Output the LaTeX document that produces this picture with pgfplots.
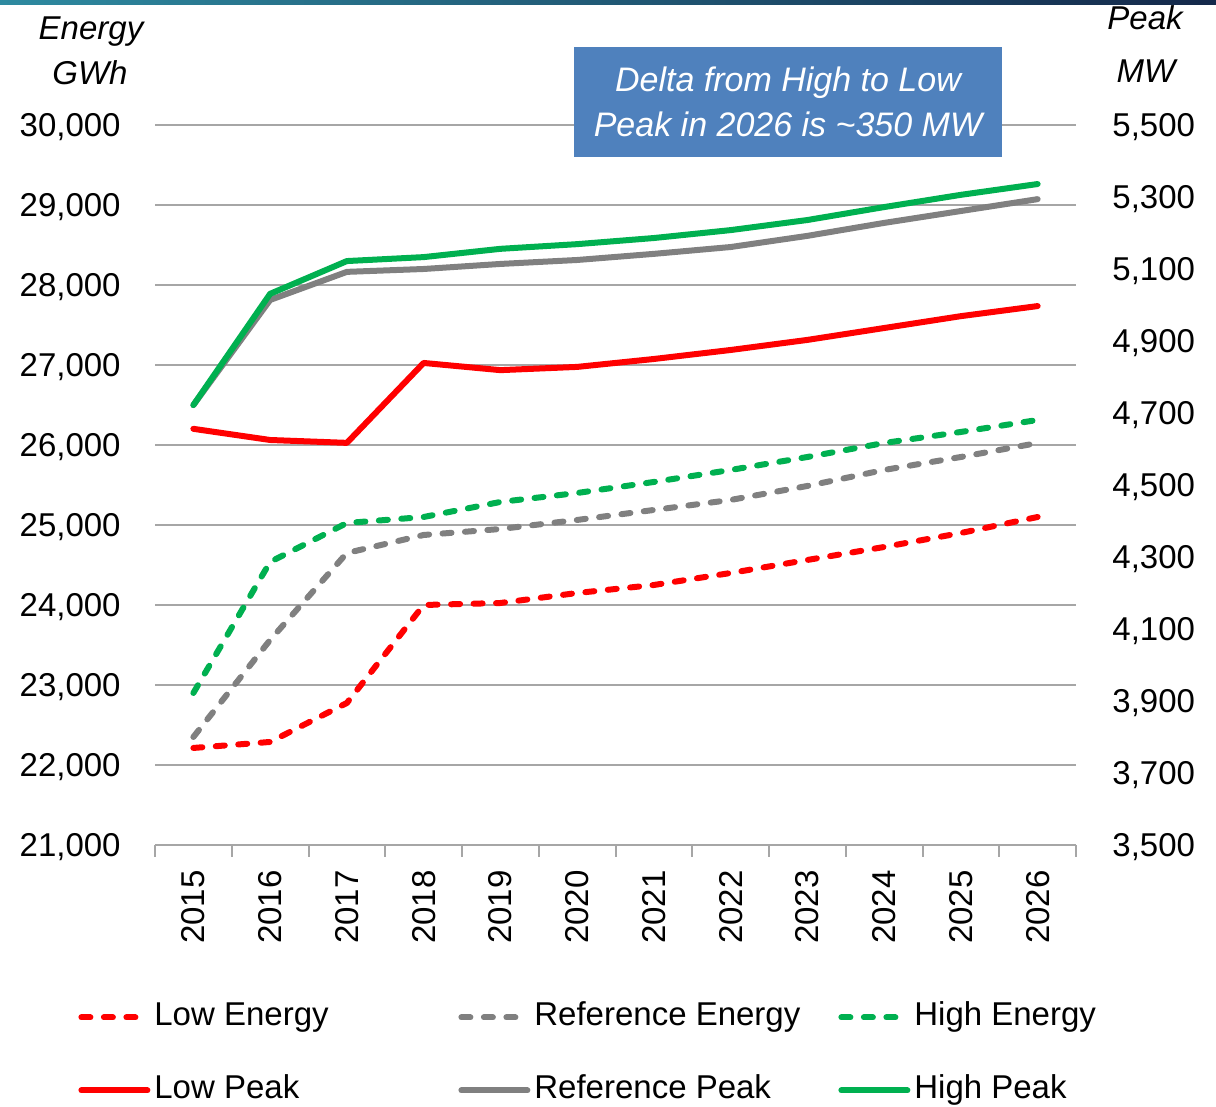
\documentclass[border=0pt]{standalone}
\usepackage{fontspec}
\setmainfont{Liberation Sans}
\usepackage{pgfplots}
\pgfplotsset{compat=1.18}
\definecolor{cRed}{HTML}{FF0000}
\definecolor{cGray}{HTML}{808080}
\definecolor{cGreen}{HTML}{00B050}
\definecolor{cGrid}{HTML}{A6A6A6}
\definecolor{cBox}{HTML}{4F81BD}
\definecolor{barL}{HTML}{2E8AA0}
\definecolor{barR}{HTML}{14284A}
\begin{document}
\begin{tikzpicture}
\useasboundingbox (0,0) rectangle (608pt,553.5pt);
\pgfplotsset{
  base/.style={
    scale only axis, width=460.5pt, height=360pt,
    at={(77.5pt,131pt)}, anchor=south west,
    xmin=-0.5, xmax=11.5,
    font=\fontsize{16.5}{19.8}\selectfont,
    scaled y ticks=false,
    /pgf/number format/assume math mode=true,
    /pgf/number format/1000 sep={,},
    every axis plot/.append style={line width=3pt, line join=round, line cap=round},
  },
}
\tikzset{dashedline/.style={dash pattern=on 4.5pt off 6.75pt}}
\begin{axis}[base,
  ymin=21000, ymax=30000, ytick={21000,22000,...,30000},
  axis x line*=bottom, axis y line*=left,
  y axis line style={draw=none},
  x axis line style={cGrid, line width=1pt, -},
  ymajorgrids, grid style={cGrid, line width=1pt},
  ytick style={draw=none},
  xtick={0,1,...,11},
  xticklabels={2015,2016,2017,2018,2019,2020,2021,2022,2023,2024,2025,2026},
  major x tick style={draw=none},
  major tick length=0pt,
  minor xtick={-0.5,0.5,...,11.5},
  minor x tick style={cGrid, line width=1pt},
  minor tick length=6pt,
  tick align=outside,
  xticklabel style={rotate=90, anchor=east, inner sep=0pt, text depth=0pt},
  xticklabel shift=12.5pt,
  yticklabel style={anchor=east, inner sep=0pt, text depth=0pt},
  yticklabel shift=17pt,
  legend columns=3,
  legend style={at={(axis description cs:-0.0836,-0.2167)}, anchor=north west,
    draw=none, fill=none, inner sep=0pt,
    /tikz/every odd column/.style={column sep=2pt},
    row sep=20.5pt,
    nodes={inner sep=0pt, text height=12pt, text depth=4pt},
    font=\fontsize{16.5}{19.8}\selectfont},
  legend image code/.code={\draw[#1] (0pt,0pt) -- (33pt,0pt);},
]
\addplot[cRed, dashedline] coordinates {(0,22213) (1,22288) (2,22775) (3,24000) (4,24025) (5,24150) (6,24250) (7,24400) (8,24563) (9,24725) (10,24900) (11,25100)};
\addlegendentry{\makebox[152pt][l]{Low Energy}}
\addplot[cGray, dashedline] coordinates {(0,22350) (1,23563) (2,24650) (3,24875) (4,24950) (5,25063) (6,25188) (7,25313) (8,25488) (9,25688) (10,25850) (11,26025)};
\addlegendentry{\makebox[152pt][l]{Reference Energy}}
\addplot[cGreen, dashedline] coordinates {(0,22900) (1,24538) (2,25025) (3,25100) (4,25288) (5,25400) (6,25538) (7,25688) (8,25850) (9,26025) (10,26163) (11,26313)};
\addlegendentry{\makebox[152pt][l]{High Energy}}
\addlegendimage{cRed, line width=3pt, line cap=round}
\addlegendentry{\makebox[152pt][l]{Low Peak}}
\addlegendimage{cGray, line width=3pt, line cap=round}
\addlegendentry{\makebox[152pt][l]{Reference Peak}}
\addlegendimage{cGreen, line width=3pt, line cap=round}
\addlegendentry{\makebox[152pt][l]{High Peak}}
\end{axis}
\begin{axis}[base,
  ymin=3500, ymax=5500, ytick={3500,3700,...,5500},
  axis y line*=right, axis x line=none,
  y axis line style={draw=none},
  ytick style={draw=none},
  major tick length=0pt,
  xtick=\empty,
  yticklabel style={anchor=west, inner sep=0pt, text depth=0pt},
  yticklabel shift=18pt,
]
\addplot[cRed] coordinates {(0,4656) (1,4625) (2,4617) (3,4839) (4,4819) (5,4828) (6,4850) (7,4875) (8,4903) (9,4936) (10,4969) (11,4997)};
\addplot[cGray] coordinates {(0,4722) (1,5014) (2,5092) (3,5100) (4,5114) (5,5125) (6,5142) (7,5161) (8,5192) (9,5228) (10,5261) (11,5294)};
\addplot[cGreen] coordinates {(0,4722) (1,5031) (2,5122) (3,5133) (4,5156) (5,5169) (6,5186) (7,5208) (8,5236) (9,5272) (10,5306) (11,5336)};
\end{axis}
\shade[left color=barL, right color=barR] (0,551pt) rectangle (608pt,553.5pt);
\begin{scope}[every node/.style={anchor=base, inner sep=0pt, font=\itshape\fontsize{16.5}{19.8}\selectfont}]
\node at (45.5pt,533.5pt) {Energy};
\node at (45pt,511pt) {GWh};
\node at (572.5pt,538.5pt) {Peak};
\node at (573pt,512pt) {MW};
\end{scope}
\fill[cBox] (287pt,475pt) rectangle (501pt,530pt);
\begin{scope}[every node/.style={anchor=base, inner sep=0pt, text=white, font=\itshape\fontsize{17}{20.5}\selectfont}]
\node at (394pt,507.5pt) {Delta from High to Low};
\node at (394pt,485pt) {Peak in 2026 is \textasciitilde350 MW};
\end{scope}
\end{tikzpicture}
\end{document}
